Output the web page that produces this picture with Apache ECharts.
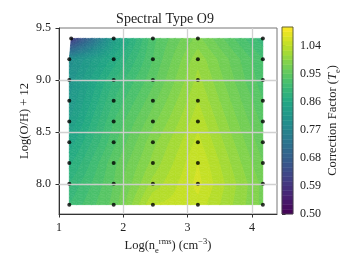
<!DOCTYPE html>
<html><head><meta charset="utf-8">
<script src="https://cdn.jsdelivr.net/npm/echarts@6/dist/echarts.min.js"></script>
<style>html,body{margin:0;padding:0;background:#fff}#c{width:352px;height:264px}</style>
</head><body><div id="c"></div>
<script>
// ---- data ----
const xCols = [1.16, 1.85, 2.46, 3.16, 4.17];
const yRows = [7.8, 8.0, 8.2, 8.4, 8.6, 8.8, 9.0, 9.2, 9.4];
const xTopLeft = 1.19; // first point of the top row
// correction factor per column, rows bottom -> top
const col0 = [0.905, 0.89, 0.87, 0.85, 0.83, 0.815, 0.805, 0.79, 0.60];
const col1 = [0.955, 0.95, 0.945, 0.93, 0.92, 0.905, 0.89, 0.865, 0.83];
const col2 = [1.04, 1.015, 1.0, 0.99, 0.975, 0.96, 0.945, 0.935, 0.93];
const col3 = [1.05, 1.06, 1.055, 1.045, 1.035, 1.025, 1.015, 1.005, 0.985];
const col4 = [0.975, 0.975, 0.965, 0.955, 0.945, 0.935, 0.925, 0.92, 0.895];
const xTicks = [1, 2, 3, 4];
const yTicks = [8.0, 8.5, 9.0, 9.5];
const cbTicks = [0.50, 0.59, 0.68, 0.77, 0.86, 0.95, 1.04];
const levelMin = 0.5, levelMax = 1.1, nBands = 40;

// ---- helpers ----
const FF = "'Liberation Serif', 'DejaVu Serif', serif";
const TXT = '#222';
const viridisStops = ['#440154','#482475','#414487','#355f8d','#2a788e','#21918c','#22a884','#44bf70','#7ad151','#bddf26','#fde725'];
function hex(h){return [parseInt(h.slice(1,3),16),parseInt(h.slice(3,5),16),parseInt(h.slice(5,7),16)];}
function viridis(t){
  t = Math.max(0, Math.min(1, t));
  const s = t * (viridisStops.length - 1);
  const i = Math.min(Math.floor(s), viridisStops.length - 2);
  const f = s - i;
  const a = hex(viridisStops[i]), b = hex(viridisStops[i+1]);
  return 'rgb(' + a.map((v,k)=>Math.round(v + (b[k]-v)*f)).join(',') + ')';
}
const levels = [];
for (let k = 0; k <= nBands; k++) levels.push(levelMin + (levelMax - levelMin) * k / nBands);
const bandColor = [];
for (let k = 0; k < nBands; k++) bandColor.push(viridis(((levels[k]+levels[k+1])/2 - levelMin)/(levelMax-levelMin)));

const colsVals = [col0, col1, col2, col3, col4];
function P(r, c){
  const x = (r === yRows.length - 1 && c === 0) ? xTopLeft : xCols[c];
  return [x, yRows[r], colsVals[c][r]];
}
function clip(poly, t, above){
  const out = [];
  for (let i = 0; i < poly.length; i++){
    const a = poly[i], b = poly[(i+1) % poly.length];
    const ina = above ? a[2] >= t : a[2] <= t;
    const inb = above ? b[2] >= t : b[2] <= t;
    if (ina) out.push(a);
    if (ina !== inb){
      const f = (t - a[2]) / (b[2] - a[2]);
      out.push([a[0] + f*(b[0]-a[0]), a[1] + f*(b[1]-a[1]), t]);
    }
  }
  return out;
}
function bil(a, b, d, e, u, w){ // a=BL b=BR d=TR e=TL
  return [0,1,2].map(k => (1-u)*(1-w)*a[k] + u*(1-w)*b[k] + u*w*d[k] + (1-u)*w*e[k]);
}
const SUB = 6;
const polys = [];
function addTri(tri){
  for (let k = 0; k < nBands; k++){
    let p = clip(tri, k === 0 ? -1e9 : levels[k], true);
    if (p.length < 3) continue;
    p = clip(p, k === nBands-1 ? 1e9 : levels[k+1], false);
    if (p.length < 3) continue;
    polys.push({k: k, pts: p});
  }
}
for (let r = 0; r < yRows.length - 1; r++){
  for (let c = 0; c < xCols.length - 1; c++){
    const a = P(r,c), b = P(r,c+1), d = P(r+1,c+1), e = P(r+1,c);
    for (let i = 0; i < SUB; i++) for (let j = 0; j < SUB; j++){
      const u0 = i/SUB, u1 = (i+1)/SUB, w0 = j/SUB, w1 = (j+1)/SUB;
      const q00 = bil(a,b,d,e,u0,w0), q10 = bil(a,b,d,e,u1,w0), q11 = bil(a,b,d,e,u1,w1), q01 = bil(a,b,d,e,u0,w1);
      addTri([q00, q10, q11]);
      addTri([q00, q11, q01]);
    }
  }
}
const points = [];
for (let r = 0; r < yRows.length; r++) for (let c = 0; c < xCols.length; c++){ const p = P(r,c); points.push([p[0], p[1]]); }

const chart = echarts.init(document.getElementById('c'));
const axisFont = {fontFamily: FF, fontSize: 12, color: TXT};
const richSmall = {
  sub: {fontFamily: FF, fontSize: 8.5, color: TXT, verticalAlign: 'bottom', lineHeight: 10},
  sup: {fontFamily: FF, fontSize: 8.5, color: TXT, verticalAlign: 'top', lineHeight: 10},
  it: {fontFamily: FF, fontSize: 12.5, color: TXT, fontStyle: 'italic', lineHeight: 18}
};
chart.setOption({
  animation: false,
  graphic: [{type: 'text', x: 165, y: 19, style: {text: 'Spectral Type O9', fontFamily: FF, fontSize: 14, fill: TXT, textAlign: 'center', textVerticalAlign: 'middle'}}],
  grid: [
    {left: 59, top: 28, width: 218, height: 186, show: true, borderColor: '#777', borderWidth: 1},
    {left: 282, top: 27, width: 11, height: 187, show: true, borderColor: '#444', borderWidth: 0.8, z: 10, backgroundColor: 'rgba(0,0,0,0)'}
  ],
  xAxis: [
    {type: 'value', gridIndex: 0, min: 1, max: 4.39,
     axisLine: {onZero: false, lineStyle: {color: '#333', width: 1}},
     axisTick: {customValues: xTicks, length: 3.5, lineStyle: {color: '#333'}},
     axisLabel: Object.assign({customValues: xTicks, margin: 8, formatter: v => String(v)}, axisFont),
     splitLine: {show: false},
     name: 'Log(n{sub|e}{sup|rms}) (cm{sup|−3})', nameLocation: 'middle', nameGap: 23, nameMoveOverlap: false,
     nameTextStyle: Object.assign({lineHeight: 18, rich: richSmall}, axisFont, {fontSize: 12.5})},
    {type: 'value', gridIndex: 1, min: 0, max: 1, show: false}
  ],
  yAxis: [
    {type: 'value', gridIndex: 0, min: 7.71, max: 9.5,
     axisLine: {onZero: false, lineStyle: {color: '#333', width: 1}},
     axisTick: {customValues: yTicks, length: 3.5, lineStyle: {color: '#333'}},
     axisLabel: Object.assign({customValues: yTicks, margin: 8, formatter: v => v.toFixed(1)}, axisFont),
     splitLine: {show: false},
     name: 'Log(O/H) + 12', nameLocation: 'middle', nameGap: 28, nameRotate: 90, nameMoveOverlap: false,
     nameTextStyle: Object.assign({}, axisFont, {fontSize: 12.5})},
    {type: 'value', gridIndex: 1, min: levelMin, max: levelMax, position: 'right',
     axisLine: {show: false},
     axisTick: {customValues: cbTicks, length: 3.5, lineStyle: {color: '#333'}},
     axisLabel: Object.assign({customValues: cbTicks, margin: 7, formatter: v => v.toFixed(2)}, axisFont),
     splitLine: {show: false},
     name: 'Correction Factor ({it|T}{sub|e})', nameLocation: 'middle', nameGap: 31, nameRotate: 90, nameMoveOverlap: false,
     nameTextStyle: Object.assign({lineHeight: 18, rich: richSmall}, axisFont, {fontSize: 12.5})}
  ],
  series: [
    {type: 'custom', xAxisIndex: 0, yAxisIndex: 0, z: 2, clip: true, progressive: 0, silent: true,
     data: polys.map((p, i) => [p.pts[0][0], p.pts[0][1], i]),
     encode: {x: 0, y: 1},
     renderItem: function(params, api){
       const p = polys[api.value(2)];
       const pts = p.pts.map(q => api.coord([q[0], q[1]]));
       const col = bandColor[p.k];
       return {type: 'polygon', shape: {points: pts}, style: {fill: col, stroke: col, lineWidth: 0.6}};
     }},
    {type: 'line', xAxisIndex: 0, yAxisIndex: 0, z: 3, data: [], silent: true,
     markLine: {silent: true, symbol: 'none', label: {show: false}, animation: false,
       lineStyle: {color: '#cfcfcf', width: 1.3, type: 'solid', opacity: 0.95},
       data: xTicks.slice(1).map(v => ({xAxis: v})).concat(yTicks.slice(0, -1).map(v => ({yAxis: v})))}},
    {type: 'scatter', xAxisIndex: 0, yAxisIndex: 0, z: 4, symbolSize: 4, silent: true,
     itemStyle: {color: '#000'}, data: points},
    {type: 'custom', xAxisIndex: 1, yAxisIndex: 1, z: 2, silent: true,
     data: bandColor.map((c, k) => [0.5, (levels[k] + levels[k+1]) / 2, k]),
     renderItem: function(params, api){
       const k = api.value(2);
       const a = api.coord([0, levels[k]]), b = api.coord([1, levels[k+1]]);
       return {type: 'rect', shape: {x: a[0], y: b[1], width: b[0] - a[0], height: a[1] - b[1]},
               style: {fill: bandColor[k], stroke: bandColor[k], lineWidth: 0.5}};
     }}
  ]
});
</script></body></html>
